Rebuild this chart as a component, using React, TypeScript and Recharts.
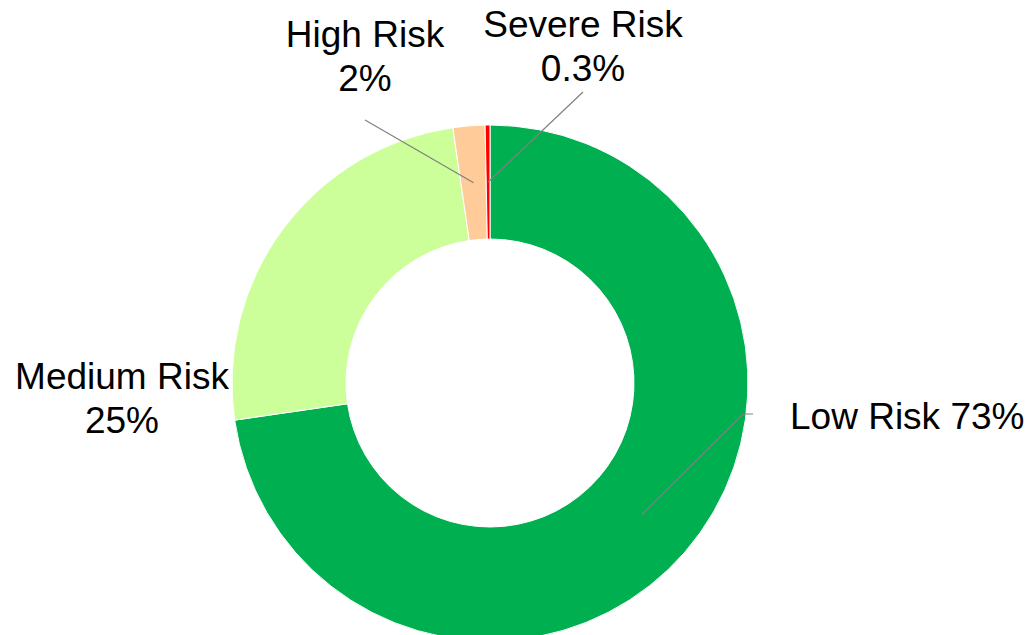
import { PieChart, Pie, Cell } from 'recharts'

// 风险分布数据
const categories = ['Low Risk', 'Medium Risk', 'High Risk', 'Severe Risk']
const shares = [72.7, 25, 2, 0.3]
const colors = ['#00B050', '#CCFF99', '#FFCC99', '#FF0000']

const data = categories.map((name, i) => ({ name, value: shares[i] }))

// 标签布局：文字位置、是否同一行、引线终点
const labelLayout = [
  { x: 790, y: 429, anchor: 'start', oneLine: true, line: [[743, 414], [753, 414]] },
  { x: 122, y: 389, anchor: 'middle', oneLine: false, line: null },
  { x: 365, y: 47, anchor: 'middle', oneLine: false, line: [[365, 120]] },
  { x: 583, y: 37, anchor: 'middle', oneLine: false, line: [[583, 92]] },
]

const RAD = Math.PI / 180
const fmt = (v: number) => (v < 1 ? v.toFixed(1) : Math.round(v).toString()) + '%'

function RiskLabel(props: any) {
  const { cx, cy, midAngle, innerRadius, outerRadius, index, name, value } = props
  const lay = labelLayout[index]
  const r = (innerRadius + outerRadius) / 2
  const sx = cx + r * Math.cos(-midAngle * RAD)
  const sy = cy + r * Math.sin(-midAngle * RAD)
  const pts = lay.line ? [[sx, sy], ...lay.line] : null
  const font = { fontFamily: '"Liberation Sans", Arial, sans-serif', fontSize: 37, fill: '#000' }
  return (
    <g>
      {pts && (
        <polyline
          points={pts.map(p => p.join(',')).join(' ')}
          fill="none"
          stroke="#808080"
          strokeWidth={1.2}
        />
      )}
      {lay.oneLine ? (
        <text x={lay.x} y={lay.y} textAnchor={lay.anchor} {...font}>
          {`${name} ${fmt(value)}`}
        </text>
      ) : (
        <text x={lay.x} y={lay.y} textAnchor={lay.anchor} {...font}>
          <tspan x={lay.x}>{name}</tspan>
          <tspan x={lay.x} dy={44}>{fmt(value)}</tspan>
        </text>
      )}
    </g>
  )
}

export default function App() {
  return (
    <div style={{ position: 'absolute', left: 0, top: 0, width: 1031, height: 635, background: '#fff' }}>
      <PieChart width={1031} height={635} margin={{ top: 0, right: 0, bottom: 0, left: 0 }}>
        <Pie
          data={data}
          dataKey="value"
          nameKey="name"
          cx={490}
          cy={383}
          innerRadius={144}
          outerRadius={258}
          startAngle={90}
          endAngle={-270}
          stroke="#fff"
          strokeWidth={1}
          label={RiskLabel}
          labelLine={false}
          isAnimationActive={false}
        >
          {data.map((d, i) => (
            <Cell key={d.name} fill={colors[i]} />
          ))}
        </Pie>
      </PieChart>
    </div>
  )
}
